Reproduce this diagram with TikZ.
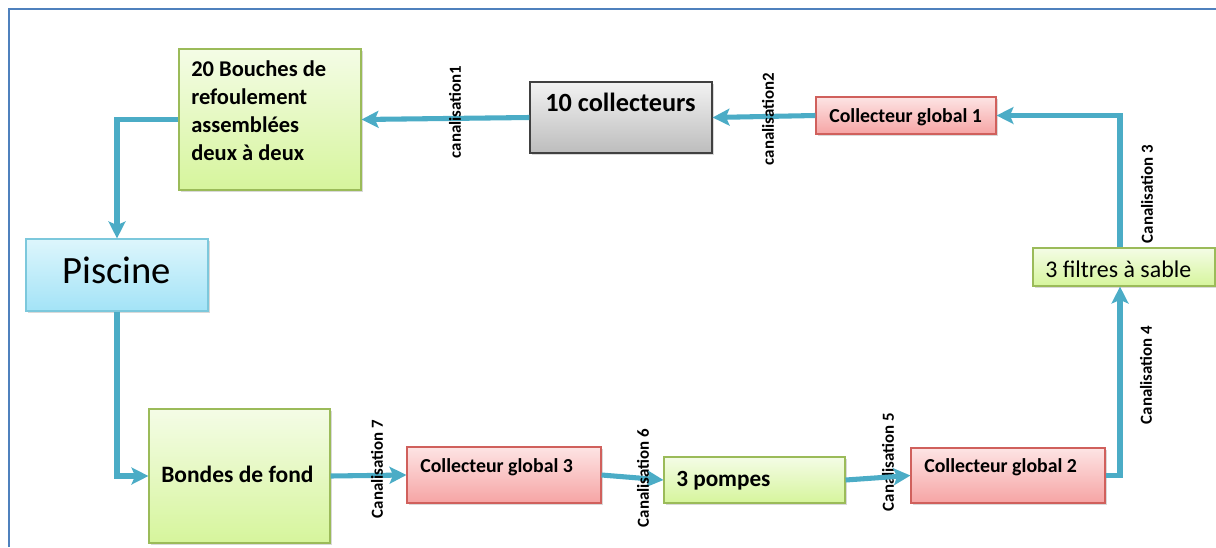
\documentclass[tikz,border=0pt]{standalone}
\usepackage{fontspec}
\setmainfont{Carlito}
\usetikzlibrary{arrows.meta,shadows}

\definecolor{pipeblue}{HTML}{4BACC6}
\definecolor{framecol}{HTML}{4F81BD}
\definecolor{greenline}{HTML}{9BBB59}
\definecolor{greentop}{HTML}{F4FCE6}
\definecolor{greenbot}{HTML}{D6F59C}
\definecolor{redline}{HTML}{D0605C}
\definecolor{redtop}{HTML}{FDE4E4}
\definecolor{redbot}{HTML}{F6A4A4}
\definecolor{blueline}{HTML}{7CC8DC}
\definecolor{bluetop}{HTML}{DDF6FC}
\definecolor{bluebot}{HTML}{A3E3F7}
\definecolor{graytop}{HTML}{F2F2F2}
\definecolor{graybot}{HTML}{BDBDBD}

\newcommand{\fs}[1]{\fontsize{#1}{1.2\dimexpr#1pt\relax}\selectfont}

\begin{document}
\begin{tikzpicture}[x=0.025cm,y=-0.025cm,
    size/.style 2 args={minimum width=#1*0.025cm, minimum height=#2*0.025cm},
    box/.style={rectangle, inner sep=0pt, line width=0.8pt,
        drop shadow={shadow xshift=1.2pt, shadow yshift=-1.2pt, opacity=0.3}},
    greenbox/.style={box, draw=greenline, top color=greentop, bottom color=greenbot},
    redbox/.style={box, draw=redline, top color=redtop, bottom color=redbot},
    graybox/.style={box, draw=black!75, top color=graytop, bottom color=graybot},
    bluebox/.style={box, draw=blueline, top color=bluetop, bottom color=bluebot},
    txt/.style={inner sep=0pt, anchor=base west, font=\bfseries\fs{#1}},
    pipe/.style={draw=pipeblue, line width=3.6pt, -{Stealth[length=12pt,width=12pt,inset=2.5pt]}},
    lbl/.style={rotate=90, inner sep=0pt, font=\bfseries\fs{12}}]
\useasboundingbox (0,0) rectangle (1216,547);

% frame
\draw[framecol, line width=1.4pt] (9,547) -- (9,9) -- (1216,9);

% boxes
\node[greenbox, size={182}{141}] (bouches) at (270,119.5) {};
\node[graybox, size={182}{71}] (coll) at (621,117.5) {};
\node[redbox, size={180}{37}] (cg1) at (906,115.5) {};
\node[greenbox, size={182}{38}] (filtres) at (1124,267) {};
\node[bluebox, size={182}{72}] (piscine) at (117,275) {};
\node[greenbox, size={181}{134}] (bondes) at (239.5,476) {};
\node[redbox, size={194}{56}] (cg3) at (504,475) {};
\node[greenbox, size={181}{46}] (pompes) at (754.5,480) {};
\node[redbox, size={194}{55}] (cg2) at (1008,475.5) {};

% texts
\node[inner sep=0pt, anchor=north west, align=left, font=\bfseries\fontsize{16}{20}\selectfont]
    (t-bouches) at (191,60) {20 Bouches de\\refoulement\\assemblées\\deux à deux};
\node[txt=18.7] (t-coll) at (545,111) {10 collecteurs};
\node[txt=14.1] (t-cg1) at (829,122) {Collecteur global 1};
\node[txt=17, font=\fs{17}] (t-filtres) at (1045,277) {3 filtres à sable};
\node[txt=27.5, font=\fs{27.5}] (t-piscine) at (62,283) {Piscine};
\node[txt=16.7] (t-bondes) at (161,482) {Bondes de fond};
\node[txt=14.1] (t-cg3) at (420,472) {Collecteur global 3};
\node[txt=16.5] (t-pompes) at (676,486) {3 pompes};
\node[txt=14.1] (t-cg2) at (924,472) {Collecteur global 2};

% label under its pipe
\node[lbl] (c5) at (888,462) {Canalisation 5};

% pipes
\draw[pipe] (coll.west) -- (bouches.east);
\draw[pipe] (cg1.west) -- (coll.east);
\draw[pipe] ([xshift=-0.1cm]filtres.north) |- (cg1.east);
\draw[pipe] (cg2.east) -| ([xshift=-0.1cm]filtres.south);
\draw[pipe] (pompes.east) -- (cg2.west);
\draw[pipe] (cg3.east) -- (pompes.west);
\draw[pipe] (bondes.east) -- (cg3.west);
\draw[pipe] (piscine.south) |- (bondes.west);
\draw[pipe] (bouches.west) -| (piscine.north);

% pipe labels
\node[lbl] (c1) at (455,112) {canalisation1};
\node[lbl] (c2) at (768,119) {canalisation2};
\node[lbl] (c3) at (1147,194) {Canalisation 3};
\node[lbl] (c4) at (1146,375) {Canalisation 4};
\node[lbl] (c6) at (643,478) {Canalisation 6};
\node[lbl] (c7) at (377,469) {Canalisation 7};
\end{tikzpicture}
\end{document}
